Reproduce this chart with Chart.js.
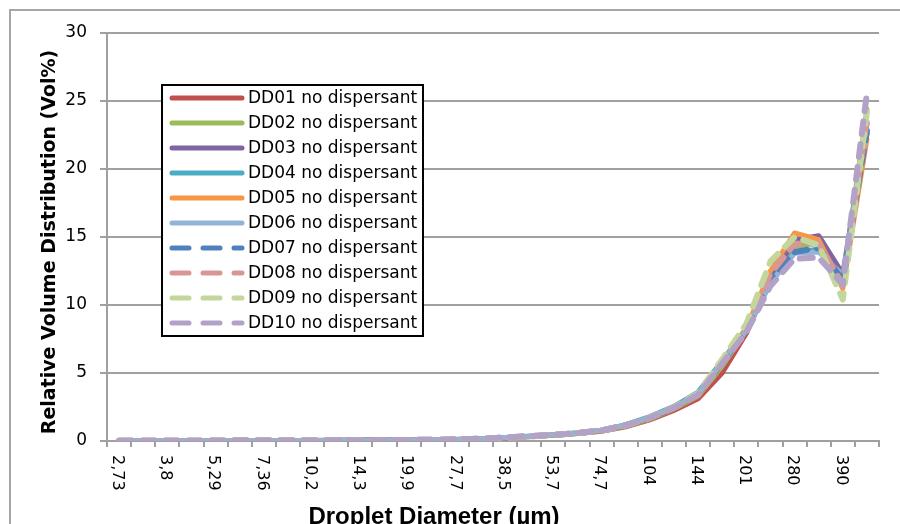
<!DOCTYPE html>
<html>
<head>
<meta charset="utf-8">
<script src="https://cdn.jsdelivr.net/npm/chart.js@4/dist/chart.umd.min.js"></script>
<style>
    body { margin: 0; background: #fff; }
    #wrap { width: 900px; height: 524px; }
</style>
</head>
<body>
<div id="wrap"><canvas id="chart" width="900" height="524"></canvas></div>
<script>
const diameters = ['2,73', '3,22', '3,8', '4,48', '5,29', '6,24', '7,36', '8,69', '10,2', '12,1', '14,3', '16,8',
    '19,9', '23,5', '27,7', '32,7', '38,5', '45,5', '53,7', '63,3', '74,7', '88,2', '104', '123',
    '144', '170', '201', '237', '280', '330', '390', '460'];

const dd01 = [0.01, 0.01, 0.02, 0.02, 0.02, 0.03, 0.03, 0.03, 0.04, 0.04, 0.05, 0.06, 0.07, 0.08, 0.10, 0.15,
    0.22, 0.32, 0.42, 0.55, 0.72, 1.05, 1.55, 2.25, 3.10, 5.00, 7.90, 11.9, 14.6, 14.8, 12.0, 22.6];
const dd02 = [0.01, 0.01, 0.01, 0.02, 0.02, 0.02, 0.03, 0.03, 0.03, 0.04, 0.05, 0.06, 0.07, 0.08, 0.10, 0.15,
    0.23, 0.33, 0.43, 0.55, 0.74, 1.08, 1.60, 2.35, 3.30, 5.50, 8.10, 11.6, 14.3, 14.6, 11.7, 24.4];
const dd03 = [0.01, 0.01, 0.02, 0.02, 0.03, 0.03, 0.03, 0.04, 0.04, 0.05, 0.07, 0.10, 0.09, 0.09, 0.11, 0.16,
    0.24, 0.34, 0.44, 0.57, 0.76, 1.12, 1.65, 2.40, 3.40, 5.70, 8.10, 11.8, 14.8, 15.1, 12.3, 23.3];
const dd04 = [0.01, 0.01, 0.02, 0.02, 0.02, 0.03, 0.03, 0.04, 0.04, 0.05, 0.06, 0.07, 0.08, 0.09, 0.12, 0.17,
    0.25, 0.35, 0.46, 0.60, 0.80, 1.20, 1.80, 2.55, 3.60, 5.90, 8.30, 11.7, 13.9, 14.1, 11.9, 23.5];
const dd05 = [0.01, 0.01, 0.02, 0.02, 0.02, 0.03, 0.03, 0.03, 0.04, 0.04, 0.05, 0.06, 0.07, 0.08, 0.11, 0.16,
    0.24, 0.35, 0.45, 0.58, 0.77, 1.14, 1.68, 2.45, 3.40, 5.80, 8.30, 12.5, 15.3, 14.8, 11.2, 22.2];
const dd06 = [0.01, 0.01, 0.02, 0.02, 0.02, 0.03, 0.03, 0.04, 0.04, 0.05, 0.06, 0.07, 0.08, 0.09, 0.11, 0.17,
    0.25, 0.35, 0.46, 0.59, 0.79, 1.17, 1.72, 2.50, 3.45, 5.80, 8.10, 11.6, 13.8, 13.9, 12.2, 22.9];
const dd07 = [0.01, 0.01, 0.02, 0.02, 0.02, 0.03, 0.03, 0.03, 0.04, 0.05, 0.06, 0.07, 0.08, 0.09, 0.11, 0.17,
    0.25, 0.35, 0.45, 0.58, 0.78, 1.16, 1.72, 2.50, 3.50, 5.80, 8.20, 11.9, 13.9, 14.2, 11.8, 22.8];
const dd08 = [0.01, 0.01, 0.02, 0.02, 0.02, 0.03, 0.03, 0.03, 0.04, 0.04, 0.05, 0.06, 0.07, 0.08, 0.11, 0.16,
    0.24, 0.34, 0.44, 0.57, 0.77, 1.14, 1.70, 2.45, 3.40, 5.80, 8.30, 12.3, 14.5, 14.5, 11.5, 23.6];
const dd09 = [0.01, 0.01, 0.01, 0.02, 0.02, 0.02, 0.03, 0.03, 0.04, 0.04, 0.05, 0.06, 0.07, 0.08, 0.10, 0.16,
    0.24, 0.34, 0.45, 0.58, 0.78, 1.15, 1.72, 2.50, 3.50, 6.00, 8.60, 13.2, 15.0, 14.4, 10.4, 24.2];
const dd10 = [0.02, 0.02, 0.02, 0.02, 0.03, 0.03, 0.03, 0.04, 0.04, 0.05, 0.06, 0.07, 0.08, 0.09, 0.11, 0.17,
    0.25, 0.35, 0.45, 0.58, 0.78, 1.15, 1.70, 2.45, 3.40, 5.70, 8.00, 11.4, 13.4, 13.5, 11.5, 25.6];

const seriesNames = ['DD01 no dispersant', 'DD02 no dispersant', 'DD03 no dispersant', 'DD04 no dispersant',
    'DD05 no dispersant', 'DD06 no dispersant', 'DD07 no dispersant', 'DD08 no dispersant',
    'DD09 no dispersant', 'DD10 no dispersant'];
const seriesValues = [dd01, dd02, dd03, dd04, dd05, dd06, dd07, dd08, dd09, dd10];
const seriesColors = ['#C0504D', '#9BBB59', '#8064A2', '#4BACC6', '#F79646',
    '#95B3D7', '#4F81BD', '#D99694', '#C3D69B', '#B3A2C7'];
const yTicks = [0, 5, 10, 15, 20, 25, 30];

const DASH = [13, 10];

const datasets = seriesNames.map((name, i) => ({
    label: name,
    data: seriesValues[i],
    borderColor: seriesColors[i],
    backgroundColor: seriesColors[i],
    borderWidth: i < 6 ? 5 : 6,
    borderDash: i < 6 ? [] : DASH,
    borderCapStyle: 'round',
    borderJoinStyle: 'round',
    pointRadius: 0,
    tension: 0,
    fill: false,
    order: 9 - i
}));

// white page, outer chart frame
const framePlugin = {
    id: 'frame',
    beforeDraw(chart) {
        const ctx = chart.ctx;
        ctx.save();
        ctx.fillStyle = '#fff';
        ctx.fillRect(0, 0, chart.width, chart.height);
        ctx.strokeStyle = '#a6a6a6';
        ctx.lineWidth = 2;
        ctx.strokeRect(10, 10, 1000, 1000);
        ctx.restore();
    }
};

// rotated category labels, axis titles and the floating legend
const decorPlugin = {
    id: 'decor',
    afterDraw(chart) {
        const ctx = chart.ctx;
        const xs = chart.scales.x;
        ctx.save();

        ctx.fillStyle = '#000';
        ctx.font = '16px "DejaVu Sans"';
        ctx.textAlign = 'left';
        ctx.textBaseline = 'middle';
        diameters.forEach((lbl, i) => {
            if (i % 2 !== 0) return;
            const x = xs.getPixelForValue(i) - 2;
            ctx.save();
            ctx.translate(x, 455);
            ctx.rotate(Math.PI / 2);
            ctx.fillText(lbl, 0, 0);
            ctx.restore();
        });

        ctx.font = 'bold 24px "Liberation Sans"';
        ctx.textAlign = 'center';
        ctx.textBaseline = 'alphabetic';
        ctx.fillText('Droplet Diameter (µm)', 434, 524);

        ctx.save();
        ctx.translate(50, 242);
        ctx.rotate(-Math.PI / 2);
        ctx.font = 'bold 19px "DejaVu Sans"';
        ctx.textBaseline = 'middle';
        ctx.fillText('Relative Volume Distribution (Vol%)', 0, 0);
        ctx.restore();

        // legend box
        const bx = 162, by = 85, bw = 261, bh = 251;
        ctx.fillStyle = '#fff';
        ctx.fillRect(bx, by, bw, bh);
        ctx.strokeStyle = '#000';
        ctx.lineWidth = 2;
        ctx.strokeRect(bx, by, bw, bh);

        ctx.font = '17px "DejaVu Sans"';
        ctx.textAlign = 'left';
        ctx.textBaseline = 'middle';
        chart.data.datasets.forEach((ds, i) => {
            const y = 98 + i * 25;
            ctx.beginPath();
            ctx.strokeStyle = ds.borderColor;
            ctx.lineWidth = 5;
            ctx.lineCap = 'round';
            ctx.setLineDash(ds.borderDash.length ? [17, 14] : []);
            ctx.moveTo(172, y);
            ctx.lineTo(242, y);
            ctx.stroke();
            ctx.setLineDash([]);
            ctx.fillStyle = '#000';
            ctx.fillText(ds.label, 248, y + 1);
        });

        ctx.restore();
    }
};

new Chart(document.getElementById('chart'), {
    type: 'line',
    data: { labels: diameters, datasets: datasets },
    options: {
        responsive: false,
        animation: false,
        devicePixelRatio: 1,
        layout: { padding: { left: 0, right: 21, top: 33, bottom: 0 } },
        plugins: { legend: { display: false }, tooltip: { enabled: false } },
        scales: {
            x: {
                type: 'category',
                offset: true,
                afterFit(scale) { scale.height = 83; },
                grid: {
                    offset: true,
                    drawOnChartArea: false,
                    drawTicks: true,
                    tickLength: 6,
                    color: '#a0a0a0',
                    lineWidth: 2
                },
                border: { color: '#a0a0a0', width: 2 },
                ticks: { display: false }
            },
            y: {
                min: 0,
                max: 30,
                afterFit(scale) { scale.width = 107; },
                afterBuildTicks(scale) { scale.ticks = yTicks.map(v => ({ value: v })); },
                grid: {
                    color: '#a0a0a0',
                    lineWidth: 2,
                    drawTicks: true,
                    tickLength: 7
                },
                border: { color: '#a0a0a0', width: 2 },
                ticks: {
                    color: '#000',
                    padding: 13,
                    font: { family: 'DejaVu Sans', size: 17 }
                }
            }
        }
    },
    plugins: [framePlugin, decorPlugin]
});
</script>
</body>
</html>
